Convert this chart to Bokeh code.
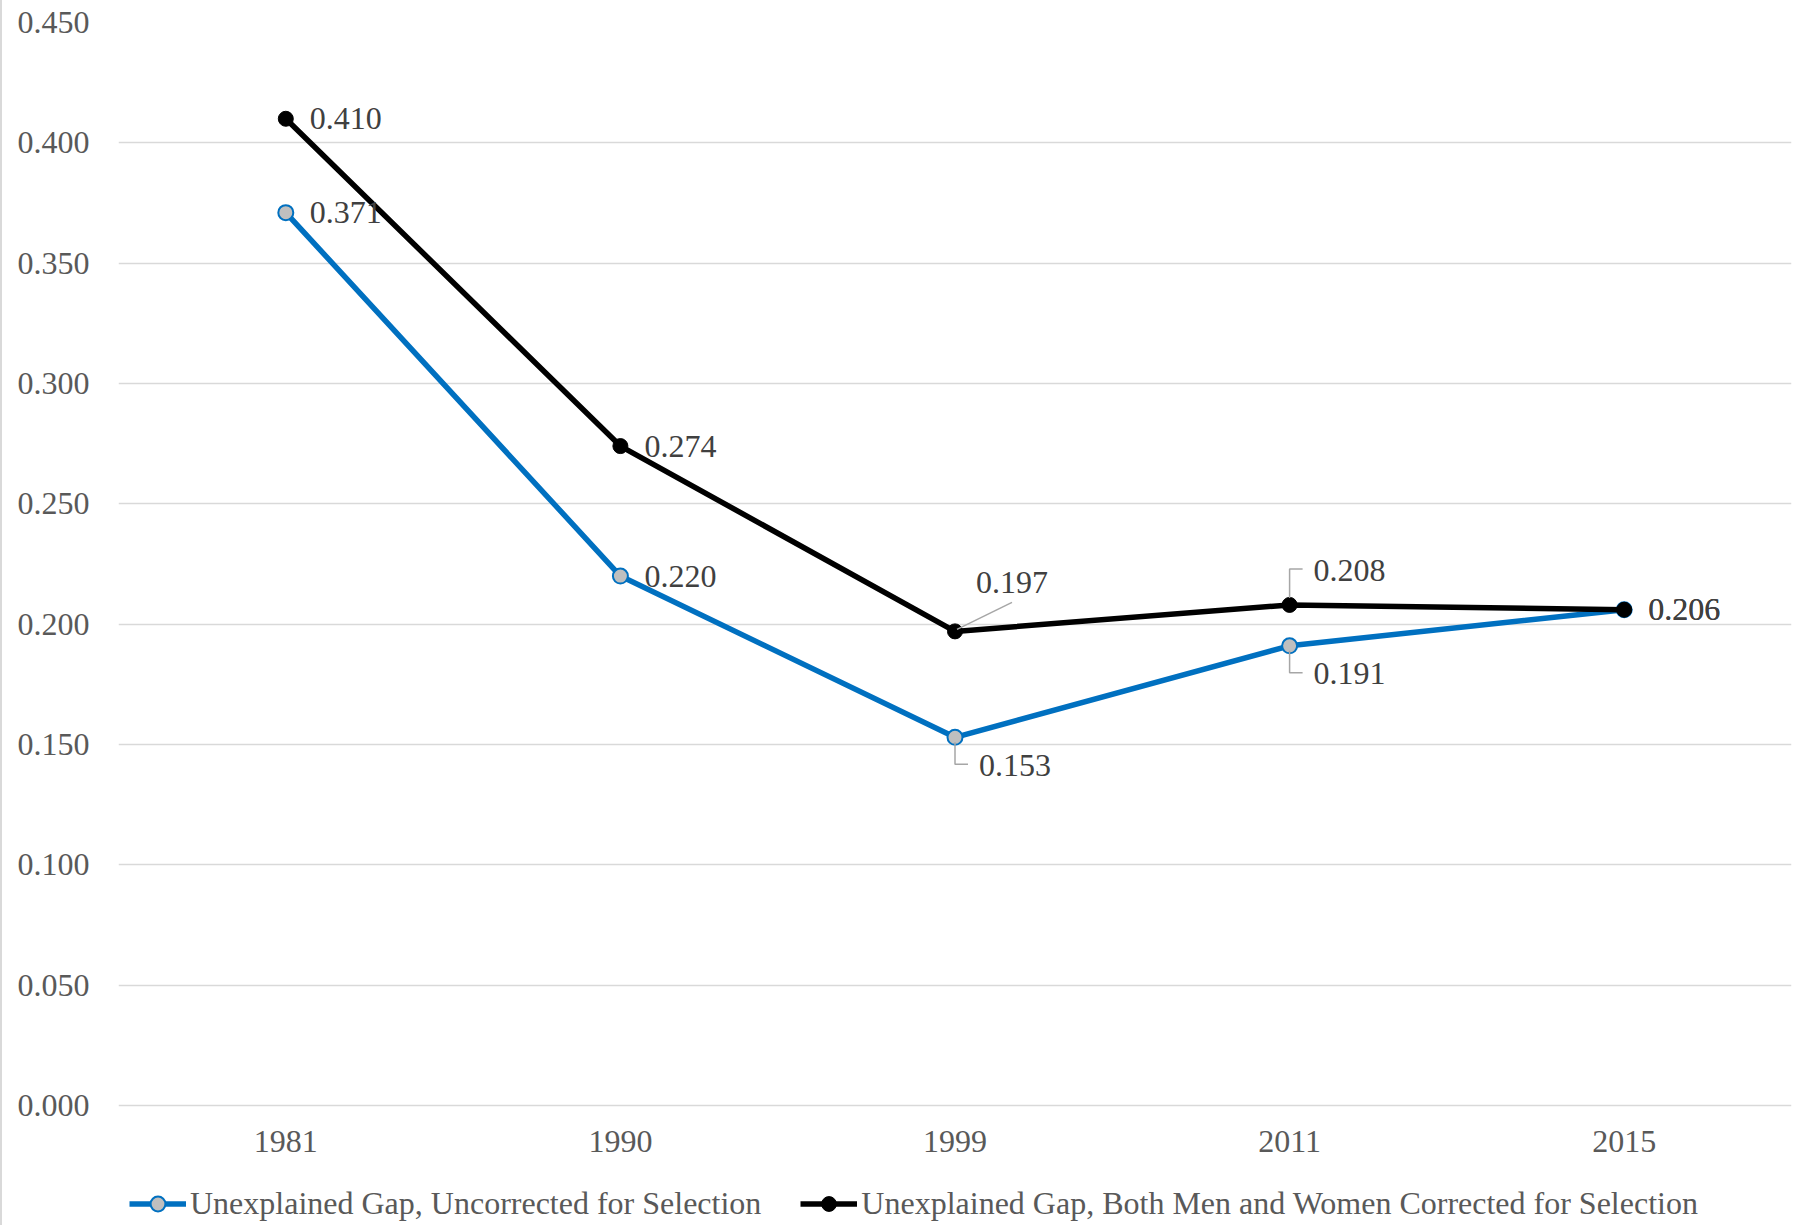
from bokeh.plotting import figure
from bokeh.models import (ColumnDataSource, FactorRange, Range1d, Legend, LegendItem,
                          FixedTicker, PrintfTickFormatter)
from bokeh.core.properties import value
from bokeh.embed import file_html
from bokeh.resources import INLINE

# ---------------- data ----------------
years = ["1981", "1990", "1999", "2011", "2015"]
uncorrected = [0.371, 0.220, 0.153, 0.191, 0.206]
corrected = [0.410, 0.274, 0.197, 0.208, 0.206]
y_ticks = [0.0, 0.05, 0.10, 0.15, 0.20, 0.25, 0.30, 0.35, 0.40, 0.45]
name_uncorrected = "Unexplained Gap, Uncorrected for Selection"
name_corrected = "Unexplained Gap, Both Men and Women Corrected for Selection"

# ---------------- layout / style ----------------
W, H = 1794, 1225
LEFT, RIGHT, TOP = 116, 5, 22
AXIS_SPACE = 120                     # room under the zero line for year labels + legend
FRAME_W = W - LEFT - RIGHT
FRAME_H = H - TOP
Y_MAX = 0.45
PX_Y = (FRAME_H - AXIS_SPACE) / Y_MAX    # pixels per value unit
Y_MIN = -AXIS_SPACE / PX_Y
PX_X = FRAME_W / len(years)              # pixels per category unit
FONT = "Liberation Serif"
BLUE = "#0070C0"

# label placement per point
place_corrected = ["right", "right", "above", "elbow_up", "right"]
place_uncorrected = ["right", "right", "elbow_down", "elbow_down", "right"]

# screen offsets (x right, y down) for the text anchor (left/middle)
TEXT_OFF = {"right": (24, 0), "above": (21, -49), "elbow_up": (24, -34), "elbow_down": (24, 28)}
# leader polylines in screen offsets
LEADER = {
    "above": [(2, -2), (57, -29)],
    "elbow_up": [(0, -7), (0, -36), (13, -36)],
    "elbow_down": [(0, 5), (0, 27), (13, 27)],
}

p = figure(width=W, height=H, x_range=FactorRange(*years, range_padding=0),
           y_range=Range1d(Y_MIN, Y_MAX), output_backend="svg", toolbar_location=None,
           min_border_left=LEFT, min_border_right=RIGHT, min_border_top=TOP,
           min_border_bottom=0, background_fill_color="white",
           border_fill_color="white", outline_line_color=None)
p.styles = {"border-left": "2px solid #d9d9d9", "box-sizing": "border-box"}

p.xgrid.grid_line_color = None
p.ygrid.grid_line_color = "#d9d9d9"
p.ygrid.grid_line_width = 1.5

p.yaxis.ticker = FixedTicker(ticks=y_ticks)
p.yaxis.formatter = PrintfTickFormatter(format="%.3f")
for ax in (p.xaxis[0], p.yaxis[0]):
    ax.axis_line_color = None
    ax.major_tick_line_color = None
    ax.minor_tick_line_color = None
    ax.major_label_text_font = FONT
    ax.major_label_text_font_size = "32px"
    ax.major_label_text_color = "#595959"
p.yaxis.major_label_standoff = 23
p.xaxis.major_label_standoff = 19
p.xaxis.fixed_location = 0

# lines and markers
src_u = ColumnDataSource(dict(x=years, y=uncorrected))
src_c = ColumnDataSource(dict(x=years, y=corrected))
lu = p.line("x", "y", source=src_u, line_color=BLUE, line_width=5.5)
mu = p.scatter("x", "y", source=src_u, size=15, marker="circle", fill_color="#bfbfbf",
               line_color=BLUE, line_width=2)
lc = p.line("x", "y", source=src_c, line_color="black", line_width=5.5)
mc = p.scatter("x", "y", source=src_c, size=15, marker="circle", fill_color="black",
               line_color="black", line_width=1)

# data labels and leader lines
lx, ly, lt, lxo, lyo = [], [], [], [], []
seg_xs, seg_ys = [], []
for vals, places in ((uncorrected, place_uncorrected), (corrected, place_corrected)):
    for i, (v, pl) in enumerate(zip(vals, places)):
        lx.append(years[i]); ly.append(v); lt.append(f"{v:.3f}")
        ox, oy = TEXT_OFF[pl]
        lxo.append(ox); lyo.append(oy)
        if pl in LEADER:
            cx = i + 0.5
            seg_xs.append([cx + dx / PX_X for dx, dy in LEADER[pl]])
            seg_ys.append([v - dy / PX_Y for dx, dy in LEADER[pl]])

p.multi_line(xs=seg_xs, ys=seg_ys, line_color="#a6a6a6", line_width=1.5)
lab_src = ColumnDataSource(dict(x=lx, y=ly, t=lt, xo=lxo, yo=lyo))
p.text("x", "y", text="t", x_offset="xo", y_offset="yo", source=lab_src,
       text_font=value(FONT), text_font_size="32px", text_color="#404040",
       text_align="left", text_baseline="middle")

legend = Legend(items=[LegendItem(label=name_uncorrected, renderers=[lu, mu]),
                       LegendItem(label=name_corrected, renderers=[lc, mc])],
                orientation="horizontal", location=(11, 3), padding=5, spacing=39,
                glyph_width=57, glyph_height=37, label_standoff=4, margin=0,
                label_text_font=FONT, label_text_font_size="32px",
                label_text_color="#595959", border_line_color=None,
                background_fill_alpha=0)
p.add_layout(legend, "center")

open("out.html", "w").write(file_html(p, INLINE))
